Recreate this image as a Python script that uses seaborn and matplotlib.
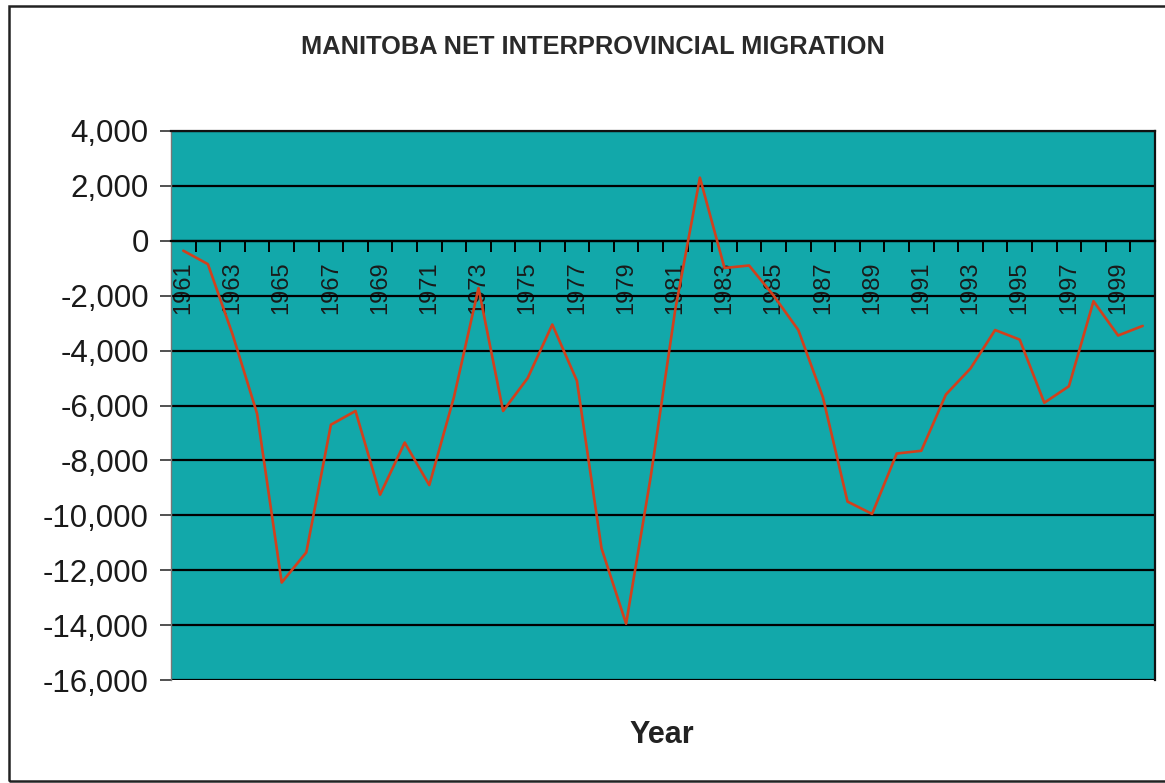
import matplotlib
matplotlib.use('Agg')
import matplotlib.pyplot as plt
import matplotlib.ticker as mticker
from matplotlib.patches import Rectangle
import pandas as pd
import seaborn as sns

# net interprovincial migration
years = list(range(1961, 2001))
migration = [-360, -850, -3400, -6300, -12450, -11350, -6700, -6200, -9250, -7350,
             -8900, -5700, -1720, -6200, -5000, -3050, -5100, -11200, -13950, -8600,
             -2500, 2300, -990, -900, -2000, -3250, -5700, -9500, -9950, -7750,
             -7650, -5600, -4650, -3250, -3600, -5900, -5300, -2200, -3450, -3100]
y_ticks = list(range(-16000, 4001, 2000))

df = pd.DataFrame({'Year': years, 'Migration': migration})

sns.set_style('ticks')
plt.rcParams['font.family'] = ['Liberation Sans', 'DejaVu Sans']

TEAL = '#12A8AA'
RED = '#D2401C'

fig = plt.figure(figsize=(11.65, 7.83), dpi=100)
ax = fig.add_axes([171/1165, 1 - 680/783, (1155 - 171)/1165, (680 - 131)/783])
ax.set_facecolor(TEAL)

sns.lineplot(data=df, x='Year', y='Migration', color=RED, linewidth=1.9, ax=ax, zorder=3)

ax.set_xlim(1960.5, 2000.5)
ax.set_ylim(-16000, 4000)
ax.set_yticks(y_ticks)
ax.yaxis.set_major_formatter(mticker.FuncFormatter(lambda v, p: f'{int(v):,}'))
ax.tick_params(axis='y', direction='out', length=8, width=1.2, color='#333333',
               labelsize=22.5, pad=8, labelcolor='#1a1a1a')
ax.yaxis.grid(True, color='black', linewidth=1.6)
ax.xaxis.grid(False)
ax.set_axisbelow(True)

# category axis crossing at zero
ax.spines['bottom'].set_position(('data', 0))
ax.spines['bottom'].set_color('black')
ax.spines['bottom'].set_linewidth(1.6)
ax.set_xticks(years[::2])
ax.set_xticklabels([str(y) for y in years[::2]], rotation=90, fontsize=17, color='#1a1a1a')
ax.set_xticks([y + 0.5 for y in years[:-1]], minor=True)
ax.tick_params(axis='x', which='major', length=0, pad=15)
ax.tick_params(axis='x', which='minor', direction='out', length=8, width=1.4, color='black')

for side in ['top', 'right']:
    ax.spines[side].set_visible(True)
    ax.spines[side].set_color('#111111')
    ax.spines[side].set_linewidth(1.6)
ax.spines['left'].set_color('#777777')
ax.spines['left'].set_linewidth(1.0)
ax.axhline(-16000, color='black', linewidth=1.8, zorder=2)

ax.set_xlabel('')
ax.set_ylabel('')

fig.text(593/1165, 1 - 47/783, 'MANITOBA NET INTERPROVINCIAL MIGRATION',
         ha='center', va='center', fontsize=18.3, fontweight='bold', color='#2a2a2a')
fig.text(662/1165, 1 - 735/783, 'Year', ha='center', va='center',
         fontsize=22, fontweight='bold', color='#222222')

fig.patches.append(Rectangle((9/1165, 1 - 781/783), 1.0, 775/783, transform=fig.transFigure,
                             fill=False, edgecolor='#222222', linewidth=1.8))

fig.savefig('out.png', dpi=100, facecolor='white')
